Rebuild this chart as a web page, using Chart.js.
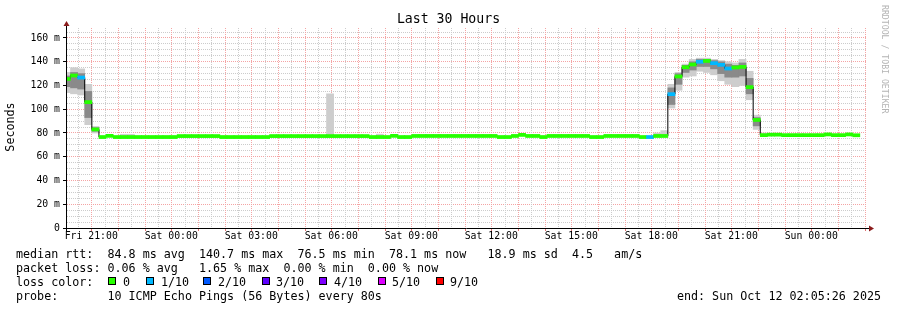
<!DOCTYPE html>
<html>
<head>
<meta charset="utf-8">
<script src="https://cdn.jsdelivr.net/npm/chart.js@4.4.0/dist/chart.umd.min.js"></script>
<style>
  html, body { margin: 0; padding: 0; background: #fff; }
  #wrap { width: 897px; height: 310px; }
</style>
</head>
<body>
<div id="wrap"><canvas id="smoke" width="897" height="310"></canvas></div>
<script>
// smokeping style graph, 30 hours ending Sun Oct 12 02:05:26 2025
// one RRD step = 16 min (12 rounds of 80s), first step is cut by the left edge
const STEP_H = 960 / 3600;
const FIRST_STEP_H = -0.002;    // centre of step 0, hours after graph start
const FIRST_LABEL_H = 0.9094;   // Fri 21:00, hours after graph start (Fri 20:05:26)
const _ = null;

// median rtt per step (ms)
const medianRtt = [
  125.5, 128.4, 126.7, 106.0, 83.0, 76.6, 77.6, 76.6, 76.6, 76.6, 76.6, 76.6, 76.6, 76.6, 76.6, 76.6,
  77.4, 77.4, 77.4, 77.4, 77.4, 77.4, 76.6, 76.6, 76.6, 76.6, 76.6, 76.6, 76.6, 77.4, 77.4, 77.4,
  77.4, 77.4, 77.4, 77.4, 77.4, 77.4, 77.4, 77.4, 77.4, 77.4, 77.4, 76.6, 76.6, 76.6, 77.6, 76.6,
  76.6, 77.5, 77.5, 77.5, 77.5, 77.5, 77.5, 77.5, 77.5, 77.5, 77.5, 77.5, 77.5, 76.6, 76.6, 77.5,
  78.4, 77.5, 77.5, 76.6, 77.5, 77.5, 77.5, 77.5, 77.5, 77.5, 76.6, 76.6, 77.5, 77.5, 77.5, 77.5,
  77.5, 76.6, 76.6, 77.5, 77.5, 112.7, 127.6, 135.4, 137.7, 140.0, 140.7, 138.8, 137.4, 134.3, 135.2, 135.7,
  118.6, 91.0, 78.2, 78.6, 78.6, 78.2, 78.2, 78.2, 78.2, 78.2, 78.2, 78.8, 78.2, 78.2, 78.8, 78.1
];

// lost pings per step, in tenths
const lossTenths = [
  0, 0, 1, 0, 0, 0, 0, 0, 0, 0, 0, 0, 0, 0, 0, 0,
  0, 0, 0, 0, 0, 0, 0, 0, 0, 0, 0, 0, 0, 0, 0, 0,
  0, 0, 0, 0, 0, 0, 0, 0, 0, 0, 0, 0, 0, 0, 0, 0,
  0, 0, 0, 0, 0, 0, 0, 0, 0, 0, 0, 0, 0, 0, 0, 0,
  0, 0, 0, 0, 0, 0, 0, 0, 0, 0, 0, 0, 0, 0, 0, 0,
  0, 0, 1, 0, 0, 1, 0, 0, 0, 1, 0, 1, 1, 1, 0, 0,
  0, 0, 0, 0, 0, 0, 0, 0, 0, 0, 0, 0, 0, 0, 0, 0
];

// outer smoke (min / max ping of the step)
const smokeLo = [
  114, 113, 112, 87, 80, _, _, _, 76, 76, _, _, _, _, _, _,
  _, _, _, _, _, _, _, _, _, _, _, _, _, _, _, _,
  _, _, _, _, _, 76.5, _, _, _, _, _, _, 76.5, _, _, _,
  _, _, _, _, _, _, _, _, _, _, _, _, _, _, _, _,
  _, _, _, _, _, _, _, _, _, _, _, _, _, _, _, _,
  _, _, _, 76.5, 76.5, 101, 116, 127, 128, 132, 131, 129, 124, 121, 119, 120,
  108, 83, 77, _, _, _, _, _, _, _, _, _, _, _, _, _
];
const smokeHi = [
  131, 135, 134, 121, 85.5, _, _, _, 78.8, 78.8, _, _, _, _, _, _,
  _, _, _, _, _, _, _, _, _, _, _, _, _, _, _, _,
  _, _, _, _, _, 113, _, _, _, _, _, _, 79, _, _, _,
  _, _, _, _, _, _, _, _, _, _, _, _, _, _, _, _,
  _, _, _, _, _, _, _, _, _, _, _, _, _, _, _, _,
  _, _, _, 80, 82, 121, 131, 138, 142, 143, 143, 142, 141, 140, 139, 142,
  132, 95, 80, _, _, _, _, _, _, _, _, _, _, _, _, _
];
// dense middle of the smoke
const coreLo = [
  119, 118, 117, 93, 81.5, _, _, _, _, _, _, _, _, _, _, _,
  _, _, _, _, _, _, _, _, _, _, _, _, _, _, _, _,
  _, _, _, _, _, _, _, _, _, _, _, _, _, _, _, _,
  _, _, _, _, _, _, _, _, _, _, _, _, _, _, _, _,
  _, _, _, _, _, _, _, _, _, _, _, _, _, _, _, _,
  _, _, _, _, _, 104, 121, 131, 133, 136, 136, 134, 130, 127, 127, 128,
  113, 86, _, _, _, _, _, _, _, _, _, _, _, _, _, _
];
const coreHi = [
  128, 131, 130, 115, 84.5, _, _, _, _, _, _, _, _, _, _, _,
  _, _, _, _, _, _, _, _, _, _, _, _, _, _, _, _,
  _, _, _, _, _, _, _, _, _, _, _, _, _, _, _, _,
  _, _, _, _, _, _, _, _, _, _, _, _, _, _, _, _,
  _, _, _, _, _, _, _, _, _, _, _, _, _, _, _, _,
  _, _, _, _, _, 118, 130, 137, 140, 142, 142, 141, 140, 138, 137, 139,
  126, 93, _, _, _, _, _, _, _, _, _, _, _, _, _, _
];

const xTickLabels = ['Fri 21:00', 'Sat 00:00', 'Sat 03:00', 'Sat 06:00', 'Sat 09:00',
                     'Sat 12:00', 'Sat 15:00', 'Sat 18:00', 'Sat 21:00', 'Sun 00:00'];
const yTickLabels = ['0', '20 m', '40 m', '60 m', '80 m', '100 m', '120 m', '140 m', '160 m'];

const lossLabels = ['0', '1/10', '2/10', '3/10', '4/10', '5/10', '9/10'];
const lossColors = ['#26ff00', '#00b8ff', '#0059ff', '#5e00ff', '#7e00ff', '#dd00ff', '#ff0000'];

const statsLines = [
  'median rtt:  84.8 ms avg  140.7 ms max  76.5 ms min  78.1 ms now   18.9 ms sd  4.5   am/s',
  'packet loss: 0.06 % avg   1.65 % max  0.00 % min  0.00 % now'
];
const probeLine = 'probe:       10 ICMP Echo Pings (56 Bytes) every 80s';
const endLine = 'end: Sun Oct 12 02:05:26 2025';

const MONO = '"DejaVu Sans Mono", monospace';
const MEDIAN_HALF = 1.3;   // half height of the coloured median bar, in ms
const GRID_MAJOR = '#f4a4a4';
const GRID_MINOR = '#cccccc';

const stepHours = medianRtt.map((v, i) => FIRST_STEP_H + i * STEP_H);

function lossColor(t) {
  if (t >= 9) return lossColors[6];
  if (t >= 5) return lossColors[5];
  return lossColors[t];
}

function band(lo, hi) {
  const out = [];
  stepHours.forEach((t, i) => {
    if (lo[i] !== null) out.push({ x: t, y: [lo[i], hi[i]] });
  });
  return out;
}

const isWhole = (v, step) => {
  const q = v / step;
  return Math.abs(q - Math.round(q)) < 1e-6;
};
const tickVal = c => (c && c.tick ? c.tick.value : NaN);

// time grid every half hour (red every hour), labels every 3 hours
const xGrid = [];
for (let k = -1; FIRST_LABEL_H + k * 0.5 <= 30; k++) xGrid.push({ t: FIRST_LABEL_H + k * 0.5, hour: k % 2 === 0 });
const xLabelTicks = xTickLabels.map((l, i) => FIRST_LABEL_H + i * 3);
const yTicks = [];
for (let v = 0; v <= 165; v += 5) yTicks.push(v);

// vertical grid of the time axis, drawn under the smoke
const timeGrid = {
  id: 'timeGrid',
  beforeDatasetsDraw(chart) {
    const { ctx, chartArea: a, scales } = chart;
    ctx.save();
    ctx.lineWidth = 1;
    xGrid.forEach(g => {
      const px = Math.round(scales.x.getPixelForValue(g.t)) + 0.5;
      ctx.setLineDash([1, 1]);
      ctx.strokeStyle = g.hour ? GRID_MAJOR : GRID_MINOR;
      ctx.beginPath();
      ctx.moveTo(px, a.top);
      ctx.lineTo(px, a.bottom);
      ctx.stroke();
      if (g.hour) {
        ctx.setLineDash([]);
        ctx.strokeStyle = '#e07070';
        ctx.beginPath();
        ctx.moveTo(px, a.bottom + 1);
        ctx.lineTo(px, a.bottom + 3);
        ctx.stroke();
      }
    });
    ctx.restore();
  }
};

const decorations = {
  id: 'decorations',
  afterDraw(chart) {
    const { ctx, chartArea: a } = chart;
    ctx.save();

    // axis lines with arrows
    ctx.strokeStyle = '#000';
    ctx.lineWidth = 1;
    ctx.beginPath();
    ctx.moveTo(a.left - 4, a.bottom + 0.5);
    ctx.lineTo(a.right + 3, a.bottom + 0.5);
    ctx.moveTo(a.left - 0.5, a.bottom + 4);
    ctx.lineTo(a.left - 0.5, a.top - 3);
    ctx.stroke();
    ctx.fillStyle = '#8b1c1c';
    ctx.beginPath();
    ctx.moveTo(a.right + 7, a.bottom + 0.5);
    ctx.lineTo(a.right + 2, a.bottom - 2.5);
    ctx.lineTo(a.right + 2, a.bottom + 3.5);
    ctx.closePath();
    ctx.fill();
    ctx.beginPath();
    ctx.moveTo(a.left - 0.5, a.top - 7);
    ctx.lineTo(a.left - 3.5, a.top - 2);
    ctx.lineTo(a.left + 2.5, a.top - 2);
    ctx.closePath();
    ctx.fill();

    // vertical texts
    ctx.fillStyle = '#000';
    ctx.font = '11.7px ' + MONO;
    ctx.textAlign = 'center';
    ctx.textBaseline = 'middle';
    ctx.save();
    ctx.translate(11, 127);
    ctx.rotate(-Math.PI / 2);
    ctx.fillText('Seconds', 0, 0);
    ctx.restore();

    ctx.save();
    ctx.fillStyle = '#b4b4b4';
    ctx.font = '8.2px ' + MONO;
    ctx.textAlign = 'left';
    ctx.translate(884, 5);
    ctx.rotate(Math.PI / 2);
    ctx.fillText('RRDTOOL / TOBI OETIKER', 0, 0);
    ctx.restore();

    // legend block
    ctx.font = '11.7px ' + MONO;
    ctx.textAlign = 'left';
    ctx.fillText(statsLines[0], 16, 255);
    ctx.fillText(statsLines[1], 16, 269);
    ctx.fillText('loss color:', 16, 283);
    const boxX = [108, 146, 203, 262, 319, 378, 436];
    const textX = [123, 161, 218, 276, 334, 392, 450];
    lossLabels.forEach((lbl, i) => {
      ctx.fillStyle = lossColors[i];
      ctx.fillRect(boxX[i], 277, 8, 8);
      ctx.strokeStyle = '#000';
      ctx.strokeRect(boxX[i] + 0.5, 277.5, 7, 7);
      ctx.fillStyle = '#000';
      ctx.fillText(lbl, textX[i], 283);
    });
    ctx.fillText(probeLine, 16, 297);
    ctx.textAlign = 'right';
    ctx.fillText(endLine, 881, 297);
    ctx.restore();
  }
};

new Chart(document.getElementById('smoke'), {
  type: 'bar',
  data: {
    datasets: [
      {
        label: 'smoke',
        data: band(smokeLo, smokeHi),
        backgroundColor: '#cdcdcd',
        grouped: false,
        barPercentage: 1,
        categoryPercentage: 1,
        order: 4
      },
      {
        label: 'smoke core',
        data: band(coreLo, coreHi),
        backgroundColor: '#8a8a8a',
        grouped: false,
        barPercentage: 1,
        categoryPercentage: 1,
        order: 3
      },
      {
        type: 'line',
        label: 'median',
        data: stepHours.map((t, i) => ({ x: t, y: medianRtt[i] })),
        stepped: 'middle',
        borderColor: '#000',
        borderWidth: 1,
        pointRadius: 0,
        order: 2
      },
      {
        label: 'median loss',
        data: stepHours.map((t, i) => ({ x: t, y: [medianRtt[i] - MEDIAN_HALF, medianRtt[i] + MEDIAN_HALF] })),
        backgroundColor: lossTenths.map(lossColor),
        grouped: false,
        barPercentage: 1,
        categoryPercentage: 1,
        order: 1
      }
    ]
  },
  options: {
    responsive: false,
    animation: false,
    devicePixelRatio: 1,
    layout: { padding: { left: 0, right: 0, top: 0, bottom: 62 } },
    plugins: {
      legend: { display: false },
      tooltip: { enabled: false },
      title: {
        display: true,
        text: 'Last 30 Hours',
        color: '#000',
        font: { family: MONO, size: 13.2, weight: 'normal', lineHeight: 1 },
        padding: { top: 13, bottom: 1.8 }
      }
    },
    scales: {
      x: {
        type: 'linear',
        min: 0,
        max: 30,
        offset: false,
        afterBuildTicks: s => { s.ticks = xLabelTicks.map(v => ({ value: v })); },
        afterFit: s => { s.height = 20; },
        ticks: {
          autoSkip: false,
          maxRotation: 0,
          padding: 0,
          color: '#000',
          font: { family: MONO, size: 9.8 },
          callback: (v, i) => xTickLabels[i]
        },
        grid: { display: false, tickLength: 3 },
        border: { display: false }
      },
      y: {
        type: 'linear',
        min: 0,
        max: 168.42,
        afterBuildTicks: s => { s.ticks = yTicks.map(v => ({ value: v })); },
        afterFit: s => { s.width = 67; },
        ticks: {
          autoSkip: false,
          padding: 3,
          color: '#000',
          font: { family: MONO, size: 9.8 },
          callback: v => isWhole(v, 20) ? yTickLabels[Math.round(v / 20)] : ''
        },
        grid: {
          color: c => isWhole(tickVal(c), 20) ? GRID_MAJOR : GRID_MINOR,
          tickColor: c => isWhole(tickVal(c), 20) ? '#000' : 'rgba(0,0,0,0)',
          tickLength: 4,
          lineWidth: 1
        },
        border: { display: false, dash: [1, 1] }
      },
      // empty right margin so the title stays centred on the whole image
      yRight: {
        type: 'linear',
        position: 'right',
        afterFit: s => { s.width = 30; },
        ticks: { display: false },
        grid: { drawOnChartArea: false, drawTicks: false },
        border: { display: false }
      }
    }
  },
  plugins: [timeGrid, decorations]
});
</script>
</body>
</html>
